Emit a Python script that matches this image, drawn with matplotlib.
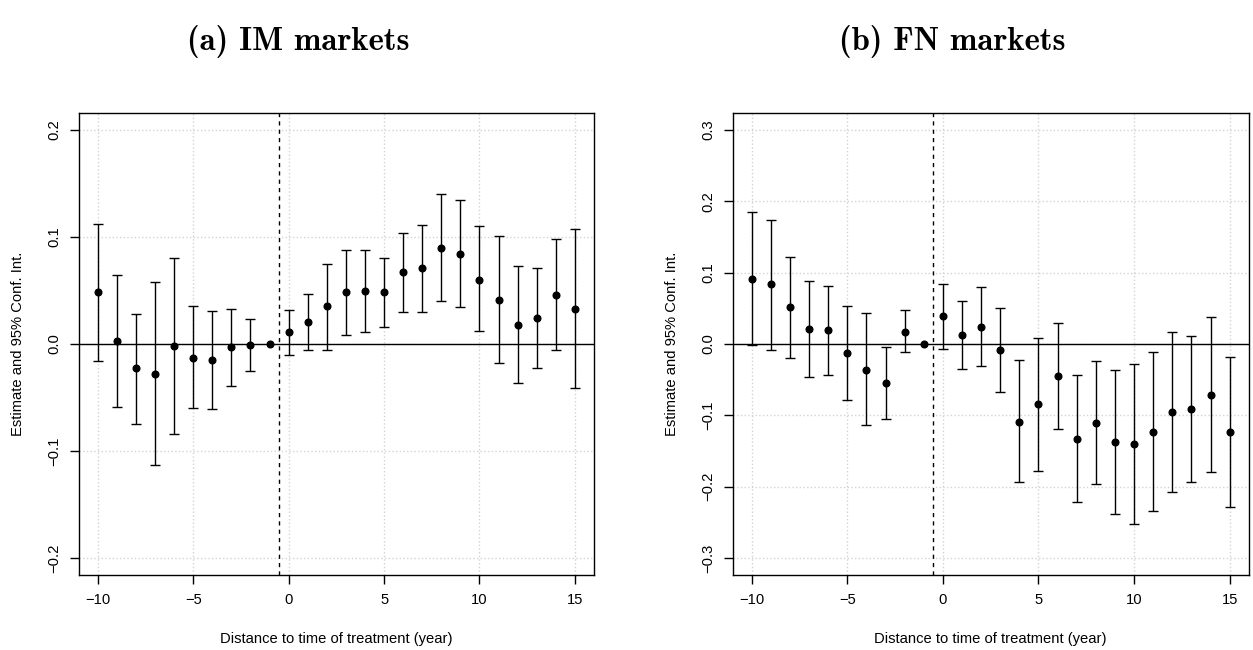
"""Event-study estimates with 95% CIs for IM and FN markets (two panels)."""

import matplotlib
matplotlib.use("Agg")
import matplotlib.pyplot as plt
import numpy as np

YEARS = np.arange(-10, 16)

# (a) IM markets -- reference year -1 is normalised to zero (no CI)
IM_EST = [0.048, 0.003, -0.023, -0.028, -0.002, -0.013, -0.015, -0.003, -0.001, 0.0,
          0.011, 0.020, 0.035, 0.048, 0.049, 0.048, 0.067, 0.071, 0.090, 0.084,
          0.060, 0.041, 0.018, 0.024, 0.046, 0.033]
IM_LO = [-0.016, -0.059, -0.075, -0.113, -0.084, -0.060, -0.061, -0.039, -0.025, np.nan,
         -0.010, -0.006, -0.006, 0.008, 0.011, 0.016, 0.030, 0.030, 0.040, 0.034,
         0.012, -0.018, -0.037, -0.023, -0.006, -0.041]
IM_HI = [0.112, 0.064, 0.028, 0.058, 0.080, 0.035, 0.031, 0.033, 0.023, np.nan,
         0.032, 0.047, 0.075, 0.088, 0.088, 0.080, 0.104, 0.111, 0.140, 0.134,
         0.110, 0.101, 0.073, 0.071, 0.098, 0.107]

# (b) FN markets
FN_EST = [0.091, 0.084, 0.051, 0.021, 0.019, -0.013, -0.036, -0.055, 0.017, 0.0,
          0.039, 0.012, 0.024, -0.009, -0.109, -0.085, -0.045, -0.133, -0.111, -0.138,
          -0.140, -0.123, -0.096, -0.092, -0.071, -0.123]
FN_LO = [-0.001, -0.008, -0.020, -0.046, -0.043, -0.079, -0.114, -0.106, -0.012, np.nan,
         -0.007, -0.035, -0.031, -0.068, -0.194, -0.178, -0.120, -0.221, -0.196, -0.238,
         -0.252, -0.234, -0.208, -0.193, -0.179, -0.228]
FN_HI = [0.185, 0.174, 0.122, 0.088, 0.081, 0.053, 0.043, -0.005, 0.047, np.nan,
         0.084, 0.060, 0.080, 0.050, -0.023, 0.008, 0.029, -0.044, -0.024, -0.036,
         -0.028, -0.011, 0.017, 0.011, 0.037, -0.018]

TITLES = ["(a) IM markets", "(b) FN markets"]
YLIMS = [0.2, 0.3]
YTICKS = [np.arange(-0.2, 0.21, 0.1), np.arange(-0.3, 0.31, 0.1)]
XTICKS = [-10, -5, 0, 5, 10, 15]

plt.rcParams["font.family"] = ["Liberation Sans", "DejaVu Sans"]

W, H = 1253, 650
fig = plt.figure(figsize=(W / 100, H / 100), dpi=100)

# axes boxes in pixels: left, right, top, bottom
boxes = [(78.7, 594.0, 112.7, 575.0), (732.6, 1248.8, 112.7, 575.0)]
title_x = [298, 952]

panels = [(IM_EST, IM_LO, IM_HI), (FN_EST, FN_LO, FN_HI)]

for i, (est, lo, hi) in enumerate(panels):
    l, r, t, b = boxes[i]
    ax = fig.add_axes([l / W, 1 - b / H, (r - l) / W, (b - t) / H])
    est = np.asarray(est)
    lo = np.asarray(lo)
    hi = np.asarray(hi)

    ym = YLIMS[i]
    ax.set_xlim(-11, 16)
    ax.set_ylim(-ym * 1.08, ym * 1.08)
    ax.set_xticks(XTICKS)
    ax.set_yticks(YTICKS[i])
    ax.set_yticklabels([f"{v:.1f}".replace("-", "\u2212") for v in YTICKS[i]],
                       rotation=90, va="center")

    ax.grid(True, color="#d3d3d3", linestyle=":", linewidth=1.0)
    ax.set_axisbelow(True)

    ax.axhline(0, color="black", linewidth=1.0, zorder=2)
    ax.axvline(-0.5, color="black", linestyle=(0, (3, 3)), linewidth=1.0, zorder=2)

    ok = ~np.isnan(lo)
    ax.errorbar(YEARS[ok], est[ok], yerr=[est[ok] - lo[ok], hi[ok] - est[ok]],
                fmt="none", ecolor="black", elinewidth=1.0, capsize=3.3,
                capthick=1.0, zorder=3)
    ax.plot(YEARS, est, "o", color="black", markersize=4.8, zorder=4)

    for s in ax.spines.values():
        s.set_linewidth(1.0)
        s.set_color("black")
    ax.tick_params(length=6.7, width=1.0, labelsize=10.6, pad=6)

    ax.set_xlabel("Distance to time of treatment (year)", fontsize=10.6)
    ax.xaxis.set_label_coords(0.5, -64 / (b - t))
    ax.xaxis.label.set_va("center")
    ax.set_ylabel("Estimate and 95% Conf. Int.", fontsize=10.6)
    ax.yaxis.set_label_coords(-61 / (r - l), 0.5)
    ax.yaxis.label.set_va("center")

    fig.text(title_x[i] / W, 1 - 42 / H, TITLES[i], ha="center", va="center",
             fontsize=23.5, fontfamily="cmb10")

fig.savefig("out.png", dpi=100)
